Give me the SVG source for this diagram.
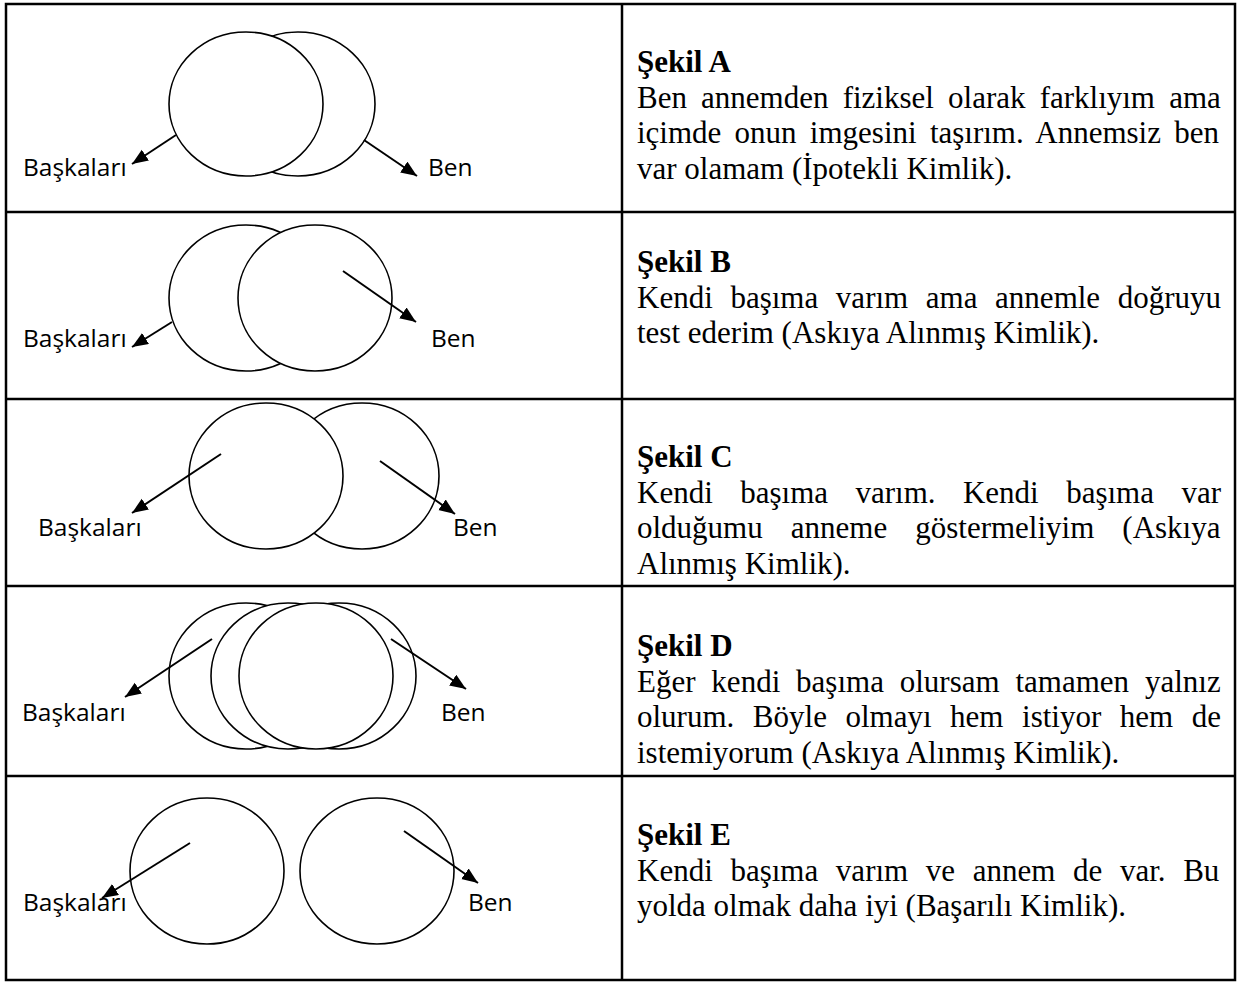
<svg xmlns="http://www.w3.org/2000/svg" width="1241" height="983" viewBox="0 0 1241 983">
<style>
.grid{fill:none;stroke:#000;stroke-width:2.5}
.c{fill:#fff;stroke:#000;stroke-width:1.6}
.lbl{font-family:"Open Sans","Liberation Sans",sans-serif;font-size:24.5px;fill:#000}
.t{font-family:"Liberation Serif","Times New Roman",serif;font-size:31px;fill:#000}
.h{font-weight:bold}
.a{stroke:#000;stroke-width:2;fill:none;marker-end:url(#ah)}
</style>
<defs>
<marker id="ah" markerUnits="userSpaceOnUse" markerWidth="18" markerHeight="14" refX="16" refY="6.5" orient="auto">
<path d="M0,0 L16,6.5 L0,13 z" fill="#000"/>
</marker>
</defs>
<rect width="1241" height="983" fill="#fff"/>
<g id="table">
<rect class="grid" x="6" y="4" width="1229" height="976"/>
<line class="grid" x1="622" y1="4" x2="622" y2="980"/>
<line class="grid" x1="6" y1="212" x2="1235" y2="212"/>
<line class="grid" x1="6" y1="399" x2="1235" y2="399"/>
<line class="grid" x1="6" y1="586" x2="1235" y2="586"/>
<line class="grid" x1="6" y1="776" x2="1235" y2="776"/>
</g>
<g id="sekilA">
<ellipse class="c" cx="298" cy="104" rx="77" ry="72"/>
<ellipse class="c" cx="246" cy="104" rx="77" ry="72"/>
<text class="lbl" x="23" y="176">Başkaları</text>
<text class="lbl" x="428" y="176">Ben</text>
<text class="t h" x="637" y="72">Şekil A</text>
<text class="t" x="637" y="107.5" word-spacing="6.4">Ben annemden fiziksel olarak farklıyım ama</text>
<text class="t" x="637" y="143" word-spacing="5.5">içimde onun imgesini taşırım. Annemsiz ben</text>
<text class="t" x="637" y="178.5">var olamam (İpotekli Kimlik).</text>
</g>
<g id="sekilB">
<ellipse class="c" cx="246" cy="298" rx="77" ry="73"/>
<ellipse class="c" cx="315" cy="298" rx="77" ry="73"/>
<text class="lbl" x="23" y="347">Başkaları</text>
<text class="lbl" x="431" y="347">Ben</text>
<text class="t h" x="637" y="272">Şekil B</text>
<text class="t" x="637" y="307.5" word-spacing="9.9">Kendi başıma varım ama annemle doğruyu</text>
<text class="t" x="637" y="343">test ederim (Askıya Alınmış Kimlik).</text>
</g>
<g id="sekilC">
<ellipse class="c" cx="362" cy="476" rx="77" ry="73"/>
<ellipse class="c" cx="266" cy="476" rx="77" ry="73"/>
<text class="lbl" x="38" y="536">Başkaları</text>
<text class="lbl" x="453" y="536">Ben</text>
<text class="t h" x="637" y="467">Şekil C</text>
<text class="t" x="637" y="502.5" word-spacing="19.7">Kendi başıma varım. Kendi başıma var</text>
<text class="t" x="637" y="538" word-spacing="20.3">olduğumu anneme göstermeliyim (Askıya</text>
<text class="t" x="637" y="573.5">Alınmış Kimlik).</text>
</g>
<g id="sekilD">
<ellipse class="c" cx="246" cy="676" rx="77" ry="73"/>
<ellipse class="c" cx="339" cy="676" rx="77" ry="73"/>
<ellipse class="c" cx="288" cy="676" rx="77" ry="73"/>
<ellipse class="c" cx="316" cy="676" rx="77" ry="73"/>
<text class="lbl" x="22" y="721">Başkaları</text>
<text class="lbl" x="441" y="721">Ben</text>
<text class="t h" x="637" y="656">Şekil D</text>
<text class="t" x="637" y="691.5" word-spacing="8.1">Eğer kendi başıma olursam tamamen yalnız</text>
<text class="t" x="637" y="727" word-spacing="10.8">olurum. Böyle olmayı hem istiyor hem de</text>
<text class="t" x="637" y="762.5">istemiyorum (Askıya Alınmış Kimlik).</text>
</g>
<g id="sekilE">
<ellipse class="c" cx="207" cy="871" rx="77" ry="73"/>
<ellipse class="c" cx="377" cy="871" rx="77" ry="73"/>
<text class="lbl" x="23" y="911">Başkaları</text>
<text class="lbl" x="468" y="911">Ben</text>
<text class="t h" x="637" y="845">Şekil E</text>
<text class="t" x="637" y="880.5" word-spacing="9.9">Kendi başıma varım ve annem de var. Bu</text>
<text class="t" x="637" y="916">yolda olmak daha iyi (Başarılı Kimlik).</text>
</g>
<g id="connectors">
<line class="a" x1="176" y1="135" x2="132" y2="164"/>
<line class="a" x1="364" y1="140" x2="417" y2="176"/>
<line class="a" x1="172" y1="322" x2="132" y2="347"/>
<line class="a" x1="343" y1="271" x2="416" y2="322"/>
<line class="a" x1="221" y1="454" x2="132" y2="513"/>
<line class="a" x1="380" y1="461" x2="455" y2="514"/>
<line class="a" x1="212" y1="639" x2="125" y2="697"/>
<line class="a" x1="391" y1="639" x2="466" y2="689"/>
<line class="a" x1="190" y1="843" x2="102" y2="898"/>
<line class="a" x1="404" y1="831" x2="478" y2="883"/>
</g>
</svg>
